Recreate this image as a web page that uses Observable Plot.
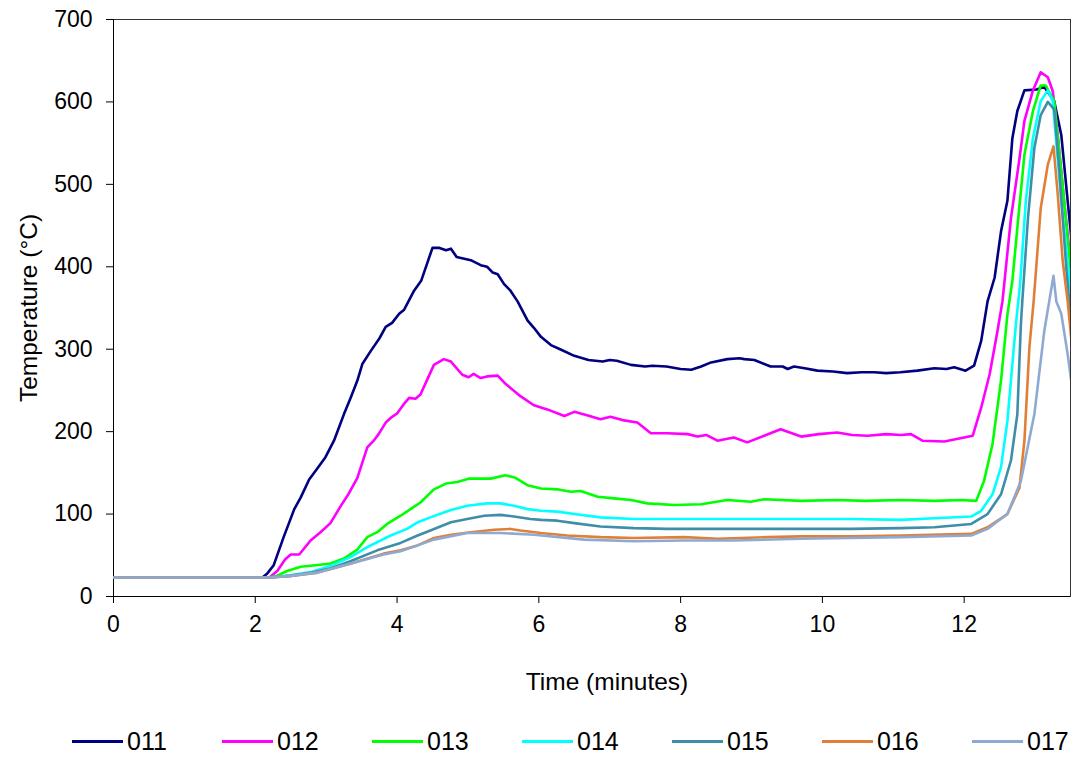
<!DOCTYPE html>
<html>
<head>
<meta charset="utf-8">
<script src="https://cdn.jsdelivr.net/npm/d3@7"></script>
<script src="https://cdn.jsdelivr.net/npm/@observablehq/plot@0.6"></script>
<style>
  html, body { margin: 0; padding: 0; background: #fff; }
  body { width: 1072px; height: 758px; overflow: hidden; font-family: "Liberation Sans", Arial, sans-serif; }
  #legend { position: relative; height: 48px; margin-top: 7px; font-size: 25px; color: #000; }
  .item { position: absolute; top: 0; height: 48px; display: flex; align-items: center; }
  .sw { width: 51px; height: 3px; margin-right: 4px; }
</style>
</head>
<body>
<div id="chart"></div>
<div id="legend"></div>
<script>
const seriesNames = ["011", "012", "013", "014", "015", "016", "017"];
const seriesColors = ["#000080", "#ff00ff", "#00ff00", "#00ffff", "#3f8ea8", "#e07f38", "#8faad2"];
const xTicks = [0, 2, 4, 6, 8, 10, 12];
const yTicks = [0, 100, 200, 300, 400, 500, 600, 700];
const xTitle = "Time (minutes)";
const yTitle = "Temperature (°C)";

const s011 = [[0,23],[1,23],[2.1,23],[2.17,28],[2.26,38],[2.4,72],[2.55,106],[2.64,120],[2.76,142],[2.88,156],[2.99,169],[3.11,189],[3.25,221],[3.35,242],[3.44,262],[3.51,282],[3.63,298],[3.75,313],[3.84,327],[3.93,332],[4.03,343],[4.10,348],[4.24,371],[4.34,383],[4.50,423],[4.59,423],[4.69,420],[4.76,422],[4.84,412],[5.04,408],[5.18,402],[5.27,400],[5.35,393],[5.42,391],[5.51,379],[5.60,371],[5.70,358],[5.84,335],[5.93,326],[6.03,315],[6.17,305],[6.3,300],[6.5,292],[6.7,287],[6.9,285],[7.0,287],[7.1,286],[7.3,281],[7.5,279],[7.6,280],[7.8,279],[8.0,276],[8.15,275],[8.29,279],[8.43,284],[8.66,288],[8.83,289],[8.9,288],[9.04,287],[9.27,279],[9.44,279],[9.51,276],[9.60,279],[9.75,277],[9.93,274],[10.15,273],[10.35,271],[10.55,272],[10.73,272],[10.9,271],[11.1,272],[11.34,274],[11.58,277],[11.75,276],[11.86,278],[12.02,274],[12.14,280],[12.24,310],[12.33,358],[12.43,387],[12.52,443],[12.61,480],[12.68,556],[12.75,589],[12.85,614],[13.02,615],[13.13,618],[13.27,601],[13.37,560],[13.46,480],[13.53,419]];
const s012 = [[0,23],[1,23],[2.2,23],[2.31,31],[2.42,45],[2.50,51],[2.62,51],[2.78,68],[2.92,78],[3.06,89],[3.20,109],[3.32,125],[3.44,144],[3.58,181],[3.67,189],[3.74,197],[3.84,211],[3.93,218],[4.00,222],[4.11,235],[4.17,241],[4.26,240],[4.33,245],[4.43,264],[4.52,281],[4.66,288],[4.76,285],[4.92,269],[5.01,266],[5.08,270],[5.18,265],[5.27,267],[5.42,268],[5.53,258],[5.74,243],[5.93,232],[6.12,227],[6.36,219],[6.50,224],[6.68,220],[6.87,215],[7.01,218],[7.18,214],[7.39,211],[7.58,198],[7.81,198],[8.10,197],[8.24,194],[8.36,196],[8.52,189],[8.75,193],[8.94,187],[9.18,195],[9.41,203],[9.70,194],[9.95,197],[10.21,199],[10.42,196],[10.64,195],[10.9,197],[11.11,196],[11.25,197],[11.41,189],[11.72,188],[12.0,193],[12.12,195],[12.24,229],[12.36,270],[12.47,322],[12.54,358],[12.66,459],[12.78,531],[12.85,577],[12.97,614],[13.08,636],[13.18,630],[13.25,613],[13.32,560],[13.41,480],[13.51,399]];
const s013 = [[0,23],[1,23],[2.2,23],[2.3,25],[2.45,31],[2.64,36],[2.85,38],[3.06,40],[3.25,46],[3.44,57],[3.58,72],[3.72,78],[3.86,88],[4.05,98],[4.19,106],[4.33,114],[4.52,130],[4.69,137],[4.85,139],[5.01,143],[5.18,143],[5.32,143],[5.53,147],[5.67,144],[5.84,135],[6.03,131],[6.26,130],[6.45,127],[6.59,128],[6.83,121],[7.06,119],[7.30,117],[7.53,113],[7.91,111],[8.29,112],[8.66,117],[8.99,115],[9.18,118],[9.70,116],[10.2,117],[10.6,116],[11.11,117],[11.58,116],[11.96,117],[12.17,116],[12.28,140],[12.40,185],[12.52,262],[12.61,342],[12.68,383],[12.75,447],[12.85,536],[12.97,589],[13.08,620],[13.15,620],[13.27,601],[13.41,480],[13.52,379]];
const s014 = [[0,23],[1,23],[2.2,23],[2.5,26],[2.8,30],[3.06,37],[3.35,48],[3.58,60],[3.91,74],[4.14,82],[4.29,90],[4.47,96],[4.76,105],[4.99,110],[5.27,113],[5.46,113],[5.65,110],[5.84,106],[6.03,104],[6.26,103],[6.50,100],[6.87,96],[7.34,94],[7.81,94],[8.29,94],[8.75,94],[9.23,94],[9.70,94],[10.4,94],[11.11,93],[11.58,95],[12.10,97],[12.24,104],[12.40,124],[12.52,157],[12.61,213],[12.68,282],[12.73,330],[12.79,380],[12.87,480],[12.97,556],[13.08,601],[13.18,614],[13.25,601],[13.37,480],[13.49,379],[13.52,360]];
const s015 = [[0,23],[1,23],[2.2,23],[2.5,25],[2.8,29],[3.06,34],[3.35,43],[3.72,56],[4.05,65],[4.29,74],[4.47,80],[4.76,90],[4.99,94],[5.23,98],[5.46,99],[5.65,97],[5.88,94],[6.03,93],[6.26,92],[6.50,89],[6.87,85],[7.34,83],[7.81,82],[8.29,82],[8.75,82],[9.23,82],[9.70,82],[10.4,82],[11.11,83],[11.58,84],[12.10,88],[12.33,100],[12.52,124],[12.66,165],[12.75,221],[12.80,330],[12.82,358],[12.90,459],[12.99,544],[13.08,584],[13.18,600],[13.27,591],[13.34,520],[13.44,399],[13.52,320]];
const s016 = [[0,23],[1,23],[2.2,23],[2.5,25],[2.88,29],[3.35,40],[3.81,52],[4.05,56],[4.29,62],[4.52,71],[4.76,75],[5.04,78],[5.37,81],[5.60,82],[5.74,80],[6.03,77],[6.40,74],[6.87,72],[7.34,71],[8.05,72],[8.52,70],[9.23,72],[9.70,73],[10.4,73],[11.11,74],[12.10,76],[12.33,84],[12.61,100],[12.78,132],[12.85,189],[12.92,302],[12.98,358],[13.08,471],[13.18,524],[13.26,546],[13.32,488],[13.39,407],[13.46,358],[13.52,305]];
const s017 = [[0,23],[1,23],[2.2,23],[2.5,25],[2.88,29],[3.35,40],[3.81,51],[4.05,55],[4.52,69],[4.99,77],[5.46,77],[5.93,75],[6.64,69],[7.34,67],[8.05,68],[8.75,68],[9.70,70],[10.4,71],[11.11,72],[12.10,74],[12.33,82],[12.61,100],[12.80,140],[12.99,221],[13.13,322],[13.26,389],[13.30,358],[13.37,343],[13.46,294],[13.53,249]];

const allSeries = [s011, s012, s013, s014, s015, s016, s017];
const rows = allSeries.flatMap((s, i) => s.map(([t, v]) => ({series: seriesNames[i], t, v})));

const chart = Plot.plot({
  width: 1072,
  height: 710,
  marginLeft: 113,
  marginRight: 2,
  marginTop: 19,
  marginBottom: 114,
  style: {fontFamily: "'Liberation Sans', Arial, sans-serif", fontSize: "23px", color: "#000", background: "#fff"},
  x: {domain: [0, 13.5]},
  y: {domain: [0, 700]},
  color: {domain: seriesNames, range: seriesColors},
  marks: [
    Plot.frame({stroke: "#333"}),
    Plot.axisX({ticks: xTicks, tickSize: 7, tickPadding: 12, tickFormat: d => String(d), fontSize: 23, label: null}),
    Plot.axisY({ticks: yTicks, tickSize: 7, tickPadding: 14, tickFormat: d => String(d), fontSize: 23, label: null}),
    Plot.text([xTitle], {frameAnchor: "bottom", text: d => d, dx: 15, dy: 93, fontSize: 24.5, fill: "#000"}),
    Plot.text([yTitle], {frameAnchor: "left", text: d => d, rotate: -90, textAnchor: "middle", lineAnchor: "middle", dx: -84, fontSize: 24.5, fill: "#000"}),
    Plot.ruleX([0], {stroke: "#000"}),
    Plot.ruleY([0], {stroke: "#000"}),
    Plot.line(rows, {x: "t", y: "v", z: "series", stroke: "series", strokeWidth: 2.6, clip: true, strokeLinejoin: "round"})
  ]
});
document.getElementById("chart").appendChild(chart);

const legend = document.getElementById("legend");
seriesNames.forEach((name, i) => {
  const item = document.createElement("div");
  item.className = "item";
  item.style.left = (72 + i * 150) + "px";
  const sw = document.createElement("div");
  sw.className = "sw";
  sw.style.background = seriesColors[i];
  const tx = document.createElement("span");
  tx.textContent = name;
  item.appendChild(sw);
  item.appendChild(tx);
  legend.appendChild(item);
});
</script>
</body>
</html>
